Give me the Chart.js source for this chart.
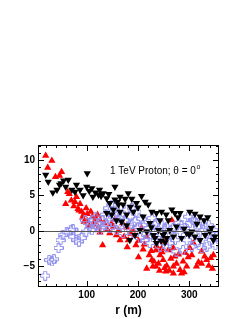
<!DOCTYPE html>
<html>
<head>
<meta charset="utf-8">
<script src="https://cdn.jsdelivr.net/npm/chart.js@4.4.1/dist/chart.umd.min.js"></script>
<style>
  html, body { margin: 0; padding: 0; background: #fff; }
  #wrap { width: 247px; height: 319px; }
</style>
</head>
<body>
<div id="wrap"><canvas id="c" width="247" height="319"></canvas></div>
<script>
// red triangles (up)
var redX = [20, 32, 24, 51, 47, 39, 63, 66, 59, 80, 77, 87, 75, 83, 99, 108, 101, 111, 121, 101, 115, 126, 134, 105, 123, 140, 126, 131,
  155, 152, 162, 173, 158, 178, 170, 190, 181, 165, 179, 194, 201, 207, 217, 210, 201, 222, 217, 231, 235, 242, 249, 256, 261, 269,
  275, 282, 288, 295, 285, 272, 292, 298, 305, 314, 324, 334, 345, 347, 342, 243, 235, 236, 259, 269, 251, 266, 308, 301, 324, 229,
  227, 269, 254, 94, 90, 95, 70, 85, 92, 113, 118, 145, 148, 186, 196, 212, 226, 240, 247, 264, 279, 290, 318, 330, 338, 252, 246];
var redY = [10.6, 9.9, 8.9, 8.3, 7.8, 7.6, 5.5, 5.2, 3.8, 4.8, 4.1, 3.8, 3.5, 3.1, 3.2, 2.7, 2.4, 2.0, 2.3, 1.4, 1.3, 1.5, 1.1, 0.7, 0.5, 0.2, -0.2, -2.0,
  1.6, 0.6, 0.05, -0.8, -0.6, 0.5, 1.1, 0.1, -1.3, -1.3, -2.3, -0.7, -1.4, 0.4, -0.8, -2.6, -3.7, -3.4, -5.3, -4.3, -5.0, -5.6, -4.1, -4.9, -5.6, -6.0,
  -4.6, -5.5, -4.3, -5.0, -6.0, -3.6, -3.1, -3.7, -3.4, -5.0, -4.6, -4.1, -5.3, -3.4, -3.8, -3.4, -2.7, -2.1, -2.7, -2.4, -1.5, 1.5, -1.7, -2.4, -2.9, -5.0,
  -4.1, -5.0, -5.7, 2.3, 2.7, 1.3, 4.3, 2.9, 1.9, 0.9, 1.8, -0.3, 1.0, -0.4, -2.0, -1.9, -2.8, -4.6, -3.0, -3.9, -3.3, -5.8, -4.4, -3.6, -4.9, -5.2, -2.5];

// black triangles (down)
var blackX = [20, 25, 34, 42, 50, 55, 64, 59, 47, 71, 80, 77, 87, 101, 100, 110, 117, 125, 123, 132, 112, 139, 155, 145, 155, 165, 175, 181,
  188, 207, 197, 214, 220, 162, 171, 152, 165, 178, 139, 149, 158, 191, 210, 227, 236, 246, 255, 266, 272, 259, 282, 301, 311, 321,
  329, 243, 223, 204, 217, 230, 240, 249, 256, 245, 236, 262, 275, 269, 285, 295, 305, 311, 321, 331, 340, 350, 347, 194, 184, 178, 168,
  93, 105, 128, 143, 160, 185, 200, 233, 252, 278, 290, 315, 336, 253, 226, 300, 343];
var blackY = [7.9, 6.9, 5.4, 5.8, 6.7, 7.1, 7.2, 6.2, 6.5, 5.8, 6.5, 5.5, 5.8, 8.1, 6.2, 6.0, 5.4, 5.8, 5.1, 5.3, 4.8, 4.6, 6.2, 3.9, 4.4, 4.8, 4.5, 5.3,
  4.5, 4.9, 3.9, 4.1, 3.7, 3.7, 3.7, 3.0, 2.7, 2.3, 2.5, 2.3, 1.5, 2.7, 2.0, 2.7, 2.5, 2.7, 2.3, 3.0, 2.5, 1.5, 2.5, 2.7, 2.4, 2.0,
  1.5, 1.5, 1.1, 0.1, -0.1, -0.6, 0.1, -0.6, -1.0, -1.4, -1.7, 0.1, 0.6, -0.8, -1.0, -0.3, -0.1, -0.8, -1.3, -0.6, -0.1, -0.8, -1.3, -0.6, -1.3, 0.8, 1.3,
  5.0, 5.6, 4.9, 5.2, 4.1, 3.4, 3.3, -1.0, -0.2, 1.9, 0.3, 1.0, 1.9, -1.6, 0.5, -0.5, 0.4];

// blue open crosses
var blueX = [19, 27, 36, 32, 45, 49, 53, 61, 69, 74, 79, 85, 80, 90, 73, 99, 103, 97, 113, 123, 132, 139, 145, 152, 158, 155, 165, 175, 168,
  184, 194, 181, 201, 210, 220, 230, 236, 249, 256, 243, 262, 272, 282, 292, 301, 311, 321, 331, 338, 295, 305, 314, 324, 334, 344, 351,
  288, 275, 214, 223, 204, 191, 171, 158, 145, 126, 119, 110, 136, 142, 149, 178, 188, 197, 227, 236, 246, 256, 269, 266, 279, 298, 308,
  318, 327, 347, 353, 106, 117, 130, 150, 162, 187, 207, 217, 241, 259, 285, 312, 326, 340, 233, 252];
var blueY = [-6.3, -4.1, -4.0, -4.3, -2.4, -1.3, -0.6, -0.2, 0.1, -0.8, -1.3, -1.5, -0.3, -1.0, 0.2, -0.1, 1.1, 1.5, 1.5, 1.1, 1.5, 0.8, 2.7, 2.0, 2.5, 3.2, 1.8, 1.5, 2.3,
  2.0, 1.3, 0.6, 0.6, 0.8, 0.4, -0.3, -1.0, -1.3, -2.2, -2.2, -1.7, -1.3, -0.1, 0.4, 1.1, 1.3, 1.5, 0.6, 0.8, -1.3, -2.2, -1.7, -2.4, -2.2, -1.3, -2.0,
  -2.7, -2.9, -1.3, -1.7, -1.0, -0.3, -0.3, 0.1, 0.4, 0.1, 0.6, 0.1, 2.3, 3.2, 3.7, 3.0, 3.2, 2.7, 1.8, 1.1, 0.8, 0.6, 0.4, -0.6, 1.1, 2.0, 1.5,
  0.6, 0.1, 0.1, -0.8, 0.6, 1.9, 0.5, 1.2, 0.9, 1.0, 1.7, -0.4, -0.7, -0.6, 0.8, -0.6, -1.1, -0.4, 0.9, 0.2];

var xMajor = [100, 200, 300];
var yMajor = [-5, 0, 5, 10];

function pts(xs, ys) {
  return xs.map(function (v, i) { return { x: v, y: ys[i] }; });
}

// open cross marker
var crossImg = document.createElement('canvas');
crossImg.width = 10; crossImg.height = 10;
(function () {
  var g = crossImg.getContext('2d');
  g.strokeStyle = '#9090ee';
  g.lineWidth = 1;
  g.beginPath();
  g.moveTo(3.5, 0.5); g.lineTo(6.5, 0.5); g.lineTo(6.5, 3.5); g.lineTo(9.5, 3.5); g.lineTo(9.5, 6.5);
  g.lineTo(6.5, 6.5); g.lineTo(6.5, 9.5); g.lineTo(3.5, 9.5); g.lineTo(3.5, 6.5); g.lineTo(0.5, 6.5);
  g.lineTo(0.5, 3.5); g.lineTo(3.5, 3.5); g.closePath();
  g.stroke();
})();

// ROOT style frame, ticks inside, zero line, text
var framePlugin = {
  id: 'frame',
  afterDatasetsDraw: function (chart) {
    var ctx = chart.ctx, a = chart.chartArea;
    var xs = chart.scales.x, ys = chart.scales.y;
    ctx.save();
    ctx.lineWidth = 1;
    // zero line
    ctx.strokeStyle = '#555';
    ctx.beginPath();
    var y0 = Math.round(ys.getPixelForValue(0)) + 0.5;
    ctx.moveTo(a.left, y0); ctx.lineTo(a.right, y0);
    ctx.stroke();
    ctx.strokeStyle = '#000';
    ctx.strokeRect(a.left + 0.5, a.top + 0.5, a.right - a.left - 1, a.bottom - a.top - 1);
    ctx.beginPath();
    for (var v = 20; v <= 358; v += 20) {
      var px = Math.round(xs.getPixelForValue(v)) + 0.5;
      var len = (v % 100 === 0) ? 6 : 3;
      ctx.moveTo(px, a.bottom); ctx.lineTo(px, a.bottom - len);
      ctx.moveTo(px, a.top); ctx.lineTo(px, a.top + len);
    }
    for (var w = -7; w <= 12; w += 1) {
      var py = Math.round(ys.getPixelForValue(w)) + 0.5;
      var l2 = (w % 5 === 0) ? 6 : 3;
      ctx.moveTo(a.left, py); ctx.lineTo(a.left + l2, py);
      ctx.moveTo(a.right, py); ctx.lineTo(a.right - l2, py);
    }
    ctx.stroke();
    // label
    ctx.fillStyle = '#000';
    ctx.font = '10px "Liberation Sans", Arial, sans-serif';
    ctx.textBaseline = 'alphabetic';
    var txt = '1 TeV Proton; \u03b8 = 0';
    ctx.fillText(txt, 110, 174);
    var tw = ctx.measureText(txt).width;
    ctx.font = '7px "Liberation Sans", Arial, sans-serif';
    ctx.fillText('o', 110 + tw + 0.5, 169);
    ctx.restore();
  }
};

new Chart(document.getElementById('c'), {
  type: 'scatter',
  data: {
    datasets: [
      { label: 'black', data: pts(blackX, blackY), pointStyle: 'triangle', rotation: 180, radius: 4.2,
        backgroundColor: '#000', borderColor: '#000', borderWidth: 0, order: 1 },
      { label: 'blue', data: pts(blueX, blueY), pointStyle: crossImg, radius: 5, order: 2 },
      { label: 'red', data: pts(redX, redY), pointStyle: 'triangle', radius: 4.2,
        backgroundColor: '#ff0000', borderColor: '#ff0000', borderWidth: 0, order: 3 }
    ]
  },
  options: {
    responsive: false,
    animation: false,
    events: [],
    layout: { padding: { top: 145, right: 28, left: 0, bottom: 0 } },
    plugins: { legend: { display: false }, tooltip: { enabled: false } },
    scales: {
      x: {
        type: 'linear', min: 5, max: 358,
        grid: { display: false, drawTicks: false, tickLength: 0 }, border: { display: false },
        afterBuildTicks: function (ax) { ax.ticks = xMajor.map(function (v) { return { value: v }; }); },
        afterFit: function (ax) { ax.height = 32; },
        ticks: { color: '#000', padding: 2, maxRotation: 0,
          font: { family: '"Liberation Sans", Arial, sans-serif', size: 10, weight: 'bold' } },
        title: { display: true, text: 'r (m)', color: '#000', padding: { top: 0, bottom: 1 },
          font: { family: '"Liberation Sans", Arial, sans-serif', size: 12, weight: 'bold' } }
      },
      y: {
        type: 'linear', min: -7.9, max: 12.1,
        grid: { display: false, drawTicks: false, tickLength: 0 }, border: { display: false },
        afterBuildTicks: function (ax) { ax.ticks = yMajor.map(function (v) { return { value: v }; }); },
        afterFit: function (ax) { ax.width = 38; },
        ticks: { color: '#000', padding: 3,
          callback: function (v) { return String(v).replace('-', '\u2212'); },
          font: { family: '"Liberation Sans", Arial, sans-serif', size: 10, weight: 'bold' } }
      }
    }
  },
  plugins: [framePlugin]
});
</script>
</body>
</html>
